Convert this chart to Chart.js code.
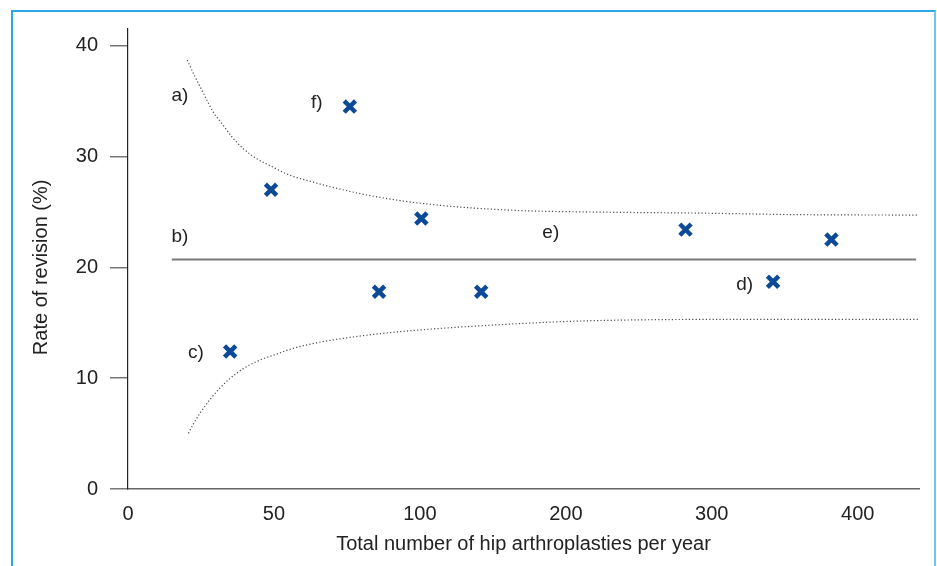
<!DOCTYPE html>
<html>
<head>
<meta charset="utf-8">
<script src="https://cdn.jsdelivr.net/npm/chart.js@4.4.1/dist/chart.umd.min.js"></script>
<style>
  html, body { margin: 0; padding: 0; background: #fff; }
  #wrap { position: relative; width: 937px; height: 566px; overflow: hidden; }
  #frame {
    position: absolute; left: 11px; top: 10px; width: 921px; height: 600px;
    border-left: 2px solid #2aa8e4; border-top: 2px solid #2aa8e4; border-right: 2px solid #6cc6ef;
    pointer-events: none;
  }
  canvas { position: absolute; left: 0; top: 0; }
</style>
</head>
<body>
<div id="wrap">
  <canvas id="chart" width="937" height="566"></canvas>
  <div id="frame"></div>
</div>
<script>
// Axis ticks (the x axis gives each interval the same width)
const X_TICKS = [0, 50, 100, 200, 300, 400];
const Y_TICKS = [0, 10, 20, 30, 40];

// Hospitals: annual number of hip arthroplasties and revision rate (%)
const HOSPITAL_X = [35, 49, 76, 86, 101, 142, 282, 342, 382];
const HOSPITAL_Y = [12.4, 27.0, 34.5, 17.8, 24.4, 17.8, 23.4, 18.7, 22.5];

// a) upper control limit
const UPPER_X = [20.3, 22.4, 24.7, 27.0, 29.2, 32.1, 35.5, 39.5, 44.1, 49.2, 55.5, 62.3, 69.2, 79.5, 93.2, 108.9, 132.2, 168.5, 223.3, 291.8, 360.3, 441.8];
const UPPER_Y = [38.7, 37.5, 36.3, 35.1, 34.0, 33.0, 31.8, 30.7, 29.8, 29.1, 28.3, 27.77, 27.28, 26.65, 26.02, 25.66, 25.39, 25.12, 24.98, 24.89, 24.75, 24.71];

// c) lower control limit
const LOWER_X = [20.7, 22.4, 24.7, 28.1, 31.5, 34.9, 39.5, 45.2, 50.9, 56.6, 64.6, 73.7, 85.2, 104.6, 150.2, 195.9, 223, 300, 442];
const LOWER_Y = [5.02, 5.86, 6.85, 8.07, 9.11, 9.96, 10.86, 11.63, 12.17, 12.69, 13.19, 13.59, 13.98, 14.40, 14.79, 15.09, 15.2, 15.3, 15.3];

// b) overall mean revision rate
const MEAN_X = [15, 440];
const MEAN_Y = [20.7, 20.7];

// Point labels
const LABEL_TEXT = ['a)', 'b)', 'c)', 'd)', 'e)', 'f)'];
const LABEL_X = [17.8, 17.8, 23.3, 322.6, 189.7, 64.7];
const LABEL_Y = [35.5, 22.8, 12.3, 18.4, 23.1, 34.8];

const FONT = "'Liberation Sans', Arial, sans-serif";
const TEXT = '#222';

// Position of a value measured in tick intervals
function toSlot(v) {
  const t = X_TICKS;
  for (let i = 1; i < t.length; i++) {
    if (v <= t[i]) return (i - 1) + (v - t[i - 1]) / (t[i] - t[i - 1]);
  }
  const n = t.length - 1;
  return n + (v - t[n]) / (t[n] - t[n - 1]);
}
function fromSlot(s) {
  const t = X_TICKS;
  const n = t.length - 1;
  const i = Math.max(0, Math.min(n - 1, Math.floor(s)));
  return t[i] + (s - i) * (t[i + 1] - t[i]);
}

// Linear scale whose tick intervals are evenly spaced
class IntervalScale extends Chart.LinearScale {
  static id = 'interval';
  static defaults = Chart.LinearScale.defaults;
  buildTicks() {
    return X_TICKS.filter(v => v >= this.min && v <= this.max).map(v => ({ value: v }));
  }
  getPixelForValue(value) {
    const a = toSlot(this.min), b = toSlot(this.max);
    return this.getPixelForDecimal((toSlot(value) - a) / (b - a));
  }
  getValueForPixel(pixel) {
    const a = toSlot(this.min), b = toSlot(this.max);
    return fromSlot(a + this.getDecimalForPixel(pixel) * (b - a));
  }
}
Chart.register(IntervalScale);

const pts = (xs, ys) => xs.map((x, i) => ({ x, y: ys[i] }));

const labelPlugin = {
  id: 'curveLabels',
  afterDatasetsDraw(chart) {
    const { ctx, scales: { x, y } } = chart;
    ctx.save();
    ctx.font = '19px ' + FONT;
    ctx.fillStyle = TEXT;
    ctx.textAlign = 'center';
    ctx.textBaseline = 'middle';
    LABEL_TEXT.forEach((t, i) => {
      ctx.fillText(t, x.getPixelForValue(LABEL_X[i]), y.getPixelForValue(LABEL_Y[i]));
    });
    ctx.restore();
  }
};

const limitStyle = {
  showLine: true,
  borderColor: '#4a4a4a',
  borderWidth: 1.2,
  borderDash: [1.2, 2.2],
  pointRadius: 0,
  cubicInterpolationMode: 'monotone',
  order: 2
};

new Chart(document.getElementById('chart'), {
  type: 'scatter',
  data: {
    datasets: [
      Object.assign({ label: 'Upper limit', data: pts(UPPER_X, UPPER_Y) }, limitStyle),
      Object.assign({ label: 'Lower limit', data: pts(LOWER_X, LOWER_Y) }, limitStyle),
      {
        label: 'Mean',
        data: pts(MEAN_X, MEAN_Y),
        showLine: true,
        borderColor: '#7a7a7a',
        borderWidth: 2,
        pointRadius: 0,
        order: 2
      },
      {
        label: 'Hospitals',
        data: pts(HOSPITAL_X, HOSPITAL_Y),
        pointStyle: 'crossRot',
        pointRadius: 8,
        pointBorderWidth: 4.5,
        borderColor: '#0c4a98',
        backgroundColor: '#0c4a98',
        order: 1
      }
    ]
  },
  options: {
    responsive: false,
    animation: false,
    events: [],
    layout: { padding: { left: 14, right: 18, top: 29, bottom: 0 } },
    plugins: { legend: { display: false }, tooltip: { enabled: false } },
    scales: {
      x: {
        type: 'interval',
        min: 0,
        max: 442,
        grid: { display: false, drawTicks: false },
        border: { display: true, color: '#666', width: 1.5 },
        ticks: {
          padding: 13,
          color: TEXT,
          font: { family: FONT, size: 20 },
          maxRotation: 0,
          callback: v => String(v)
        },
        title: {
          display: true,
          text: 'Total number of hip arthroplasties per year',
          color: TEXT,
          font: { family: FONT, size: 20 },
          padding: { top: 0, bottom: 10 }
        },
        afterFit(scale) { scale.height = 77; }
      },
      y: {
        min: 0,
        max: 41.5,
        grid: { drawOnChartArea: false, drawTicks: true, tickLength: 18, color: '#777', lineWidth: 1.5 },
        border: { display: true, color: '#222', width: 1.2 },
        ticks: {
          stepSize: 10,
          includeBounds: false,
          padding: 12,
          color: TEXT,
          font: { family: FONT, size: 20 },
          callback: v => String(v)
        },
        afterBuildTicks(scale) { scale.ticks = Y_TICKS.map(v => ({ value: v })); },
        title: {
          display: true,
          text: 'Rate of revision (%)\u00a0\u00a0\u00a0',
          color: TEXT,
          font: { family: FONT, size: 20 },
          padding: { top: 15, bottom: 0 }
        },
        afterFit(scale) { scale.width = 114; }
      }
    }
  },
  plugins: [labelPlugin]
});
</script>
</body>
</html>
